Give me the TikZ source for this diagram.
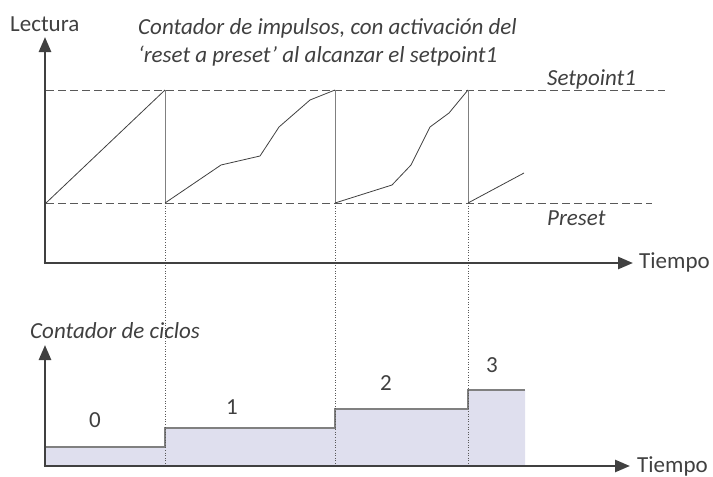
\documentclass[tikz,border=0pt]{standalone}
\usepackage{fontspec}
\setmainfont{Carlito}
\usetikzlibrary{arrows.meta}
\definecolor{txt}{HTML}{404040}
\definecolor{axc}{HTML}{404040}
\definecolor{dash}{HTML}{595959}
\definecolor{stepfill}{HTML}{DFDFEE}
\definecolor{stepline}{HTML}{808080}
\tikzset{
  lbl/.style={inner sep=0pt, text=txt, font=\fontsize{23}{27}\selectfont},
  ilbl/.style={lbl, font=\fontsize{23}{27}\selectfont\itshape},
  axis/.style={draw=axc, line width=2.6pt, -{Triangle[length=15pt,width=12pt]}},
  guide/.style={draw=dash, line width=0.9pt, dash pattern=on 8pt off 4pt},
  curve/.style={draw=axc, line width=0.8pt},
  resetline/.style={draw=stepline, line width=1pt},
  vdots/.style={draw=dash, line width=0.6pt, dotted},
  stepstyle/.style={draw=stepline, line width=1.3pt}
}
\begin{document}
\begin{tikzpicture}[x=1pt,y=-1pt]
\useasboundingbox (0,0) rectangle (713,477);
% top chart coordinates
\coordinate (o1) at (45,263);
\coordinate (ytip) at (45,37);
\coordinate (xtip) at (633,263);
\coordinate (sp0) at (46,90);
\coordinate (sp1) at (665,90);
\coordinate (pr0) at (46,203);
\coordinate (pr1) at (652,203);
% bottom chart
\coordinate (o2) at (45,466);
\coordinate (ytip2) at (45,345);
\coordinate (xtip2) at (630,466);
% dotted guides
\coordinate (r1t) at (165,203); \coordinate (r1b) at (165,466);
\coordinate (r2t) at (335,203); \coordinate (r2b) at (335,466);
\coordinate (r3t) at (468,203); \coordinate (r3b) at (468,466);
% step fill
\path[fill=stepfill] (45,466) -- (45,447) -- (165,447) -- (165,428) -- (335,428) -- (335,409) -- (468,409) -- (468,390) -- (525,390) -- (525,466) -- cycle;
\draw[stepstyle] (45,447) -- (165,447) -- (165,428) -- (335,428) -- (335,409) -- (468,409) -- (468,390) -- (525,390);
% dashed guides
\draw[guide] (sp0) -- (sp1);
\draw[guide] (pr0) -- (pr1);
% dotted
\draw[vdots] (r1t) -- (r1b);
\draw[vdots] (r2t) -- (r2b);
\draw[vdots] (r3t) -- (r3b);
% curves
\draw[curve] (46,203) -- (165,90);
\draw[resetline] (165,90) -- (165,203);
\draw[curve] (165,203) -- (221,165) -- (260,156) -- (279,127) -- (310,100) -- (335,90);
\draw[resetline] (335,90) -- (335,203);
\draw[curve] (335,203) -- (392,185) -- (411,165) -- (430,127) -- (449,113) -- (468,90);
\draw[resetline] (468,90) -- (468,203);
\draw[curve] (468,203) -- (524,173);
% axes
\draw[axis] (o1) -- (ytip);
\draw[axis] ([xshift=-1.3pt]o1) -- (xtip);
\draw[axis] (o2) -- (ytip2);
\draw[axis] ([xshift=-1.3pt]o2) -- (xtip2);
% labels
\node[lbl, anchor=base west] (lect) at (10,31.5) {Lectura};
\node[ilbl, anchor=base west] (t1) at (138,34.5) {Contador de impulsos, con activación del};
\node[ilbl, anchor=base west] (t2) at (138,62) {‘reset a preset’ al alcanzar el setpoint1};
\node[ilbl, anchor=base west] (sp) at (547,85) {Setpoint1};
\node[ilbl, anchor=base west] (pr) at (547,225) {Preset};
\node[lbl, anchor=base west] (tm1) at (639,268) {Tiempo};
\node[ilbl, anchor=base west] (cc) at (30,338) {Contador de ciclos};
\node[lbl, anchor=base west] (tm2) at (637,472) {Tiempo};
\node[lbl, anchor=base] (n0) at (95,427) {0};
\node[lbl, anchor=base] (n1) at (232,414) {1};
\node[lbl, anchor=base] (n2) at (386,390) {2};
\node[lbl, anchor=base] (n3) at (492,372) {3};
\end{tikzpicture}
\end{document}
